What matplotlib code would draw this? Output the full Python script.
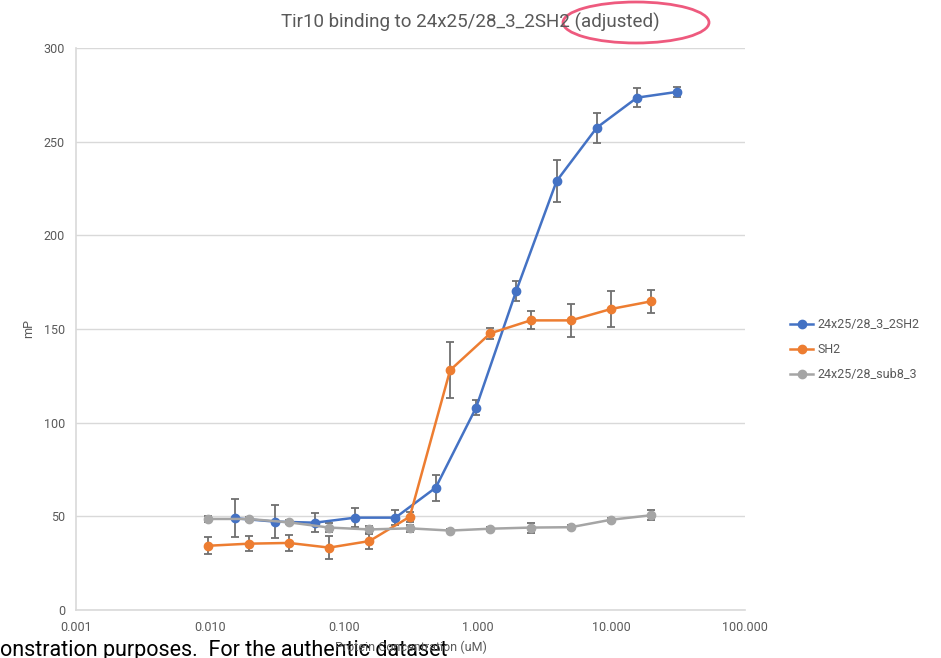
import matplotlib
matplotlib.use('Agg')
import matplotlib.pyplot as plt
from matplotlib.patches import Ellipse
from matplotlib.lines import Line2D
from matplotlib.ticker import FixedLocator, FuncFormatter

plt.rcParams['font.family'] = ['Roboto', 'DejaVu Sans']

# concentraciones (uM)
conc_blue = [0.0153, 0.0305, 0.061, 0.122, 0.244, 0.488, 0.977, 1.95, 3.91, 7.81, 15.6, 31.25]
conc_other = [0.00977, 0.0195, 0.039, 0.078, 0.156, 0.3125, 0.625, 1.25, 2.5, 5.0, 10.0, 20.0]

# valores mP
blue_y = [49.0, 47.2, 46.6, 49.3, 49.3, 65.3, 108.0, 170.3, 229.0, 257.5, 273.5, 276.6]
blue_err = [10, 9, 5, 5, 4, 7, 4, 5.5, 11, 8, 5, 2.5]
orange_y = [34.3, 35.4, 35.8, 33.3, 36.8, 49.8, 128.0, 147.7, 154.6, 154.6, 160.7, 164.8]
orange_err = [4.5, 4, 4.5, 6, 4, 2.7, 15, 3, 4.8, 9, 9.8, 6]
gray_y = [48.6, 48.6, 46.8, 44.0, 43.0, 43.6, 42.4, 43.4, 44.0, 44.2, 48.2, 50.6]
gray_err = [1.5, 1, 1, 2.5, 2, 2, 1, 1, 2.7, 1, 1, 2.8]

names = ['24x25/28_3_2SH2', 'SH2', '24x25/28_sub8_3']
colors = ['#4472C4', '#ED7D31', '#A5A5A5']

xticks = [0.001, 0.01, 0.1, 1, 10, 100]
yticks = [0, 50, 100, 150, 200, 250, 300]

fig = plt.figure(figsize=(9.41, 6.58), dpi=100)
ax = fig.add_axes([76/941, 1-610/658, (745-76)/941, (610-48)/658])

series = [(conc_blue, blue_y, blue_err), (conc_other, orange_y, orange_err), (conc_other, gray_y, gray_err)]
handles = []
for (xs, ys, es), nm, c in zip(series, names, colors):
    ax.errorbar(xs, ys, yerr=es, color=c, ecolor='#6f6f6f', elinewidth=1.3, capsize=3,
                capthick=1.3, marker='o', markersize=6, linewidth=1.8)
    handles.append(Line2D([], [], color=c, marker='o', markersize=6, linewidth=1.8, label=nm))

ax.set_xscale('log')
ax.set_xlim(0.001, 100)
ax.set_ylim(0, 300)
ax.xaxis.set_major_locator(FixedLocator(xticks))
ax.xaxis.set_minor_locator(FixedLocator([]))
ax.xaxis.set_major_formatter(FuncFormatter(lambda v, p: f'{v:.3f}'))
ax.set_yticks(yticks)
ax.grid(axis='y', color='#d9d9d9', linewidth=1)
ax.set_axisbelow(True)
for s in ['top', 'right']:
    ax.spines[s].set_visible(False)
ax.spines['left'].set_color('#d9d9d9')
ax.spines['bottom'].set_color('#d9d9d9')
ax.spines['left'].set_linewidth(1.2)
ax.spines['bottom'].set_linewidth(1.2)
ax.tick_params(length=0, labelsize=9, colors='#595959', pad=8)

# titulo centrado na figura
fig.text(0.5, 1-22/658, 'Tir10 binding to 24x25/28_3_2SH2 (adjusted)', fontsize=13.5,
         color='#595959', ha='center', va='center')
ax.set_ylabel('mP', fontsize=9, color='#595959', labelpad=6)
ax.set_xlabel('Protein Concentration (uM)', fontsize=9, color='#595959', labelpad=5)

leg = ax.legend(handles=handles, loc='center left', bbox_to_anchor=(1.05, 0.463), frameon=False,
                fontsize=9, handlelength=1.9, handletextpad=0.3, labelspacing=0.95)
for t in leg.get_texts():
    t.set_color('#595959')

# marca rosa alrededor de "(adjusted)"
fig.patches.append(Ellipse((636/941, 1-22.5/658), 146/941, 41/658, transform=fig.transFigure,
                           fill=False, edgecolor='#EE5A7E', linewidth=2))

# texto cortado por baixo (fica atras do rotulo do eixo)
fig.text(0.0, 1-656/658, 'onstration purposes.  For the authentic dataset', fontsize=15.5,
         va='baseline', ha='left', color='black', zorder=-1)

fig.savefig('out.png', dpi=100)
